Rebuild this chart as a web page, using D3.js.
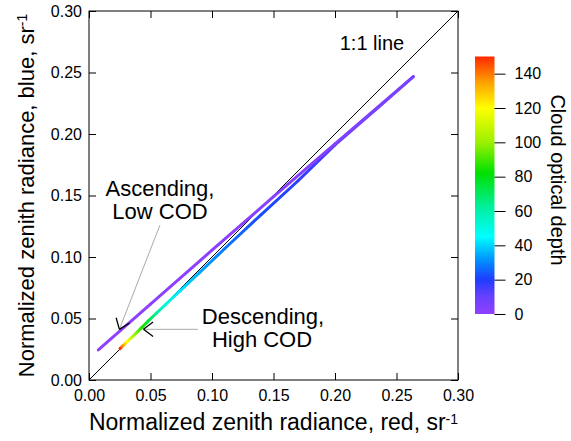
<!DOCTYPE html>
<html>
<head>
<meta charset="utf-8">
<script src="https://cdn.jsdelivr.net/npm/d3@7.8.5/dist/d3.min.js"></script>
<style>
  body { margin: 0; background: #fff; }
  svg text { font-family: "Liberation Sans", Arial, Helvetica, sans-serif; fill: #000; }
</style>
</head>
<body>
<div id="chart"></div>
<script>
// Ascending branch (low COD): red radiance, blue radiance, cloud optical depth
const ascRed  = [0.0076, 0.05, 0.10, 0.15, 0.20, 0.2637];
const ascBlue = [0.0244, 0.0617, 0.1055, 0.149, 0.192, 0.2466];
const ascCod  = [0, 0.5, 1, 2, 3.5, 6];

// Descending branch (high COD)
const descRed  = [0.2637, 0.235, 0.20, 0.17, 0.14, 0.11, 0.09, 0.074, 0.062, 0.055, 0.048, 0.043, 0.037, 0.0306, 0.0275, 0.0252];
const descBlue = [0.2466, 0.2215, 0.1912, 0.162, 0.1345, 0.1065, 0.0875, 0.0725, 0.0612, 0.0545, 0.0478, 0.0428, 0.0368, 0.0308, 0.0278, 0.0255];
const descCod  = [6, 10, 14, 18, 22, 28, 34, 42, 52, 62, 75, 85, 100, 120, 135, 150];

// axis ticks
const axisTicks = [0, 0.05, 0.10, 0.15, 0.20, 0.25, 0.30];
const cbTicks = [0, 20, 40, 60, 80, 100, 120, 140];

// colour map for cloud optical depth
const codStops  = [0, 10, 20, 32, 45, 62, 82, 100, 120, 135, 150];
const codColors = ['#9040ff', '#6a40ff', '#1e3cff', '#0096ff', '#00ffff', '#00f0a0', '#00e000', '#9bf000', '#ffff00', '#ffa000', '#ff2800'];

const width = 571, height = 441;
const svg = d3.select('#chart').append('svg')
  .attr('width', width)
  .attr('height', height);

const x = d3.scaleLinear().domain([0, 0.3]).range([89, 458]);
const y = d3.scaleLinear().domain([0, 0.3]).range([380, 11]);
const codColor = d3.scaleLinear().domain(codStops).range(codColors).clamp(true);

const fmt = d3.format('.2f');

// axes with inward ticks
const gx = svg.append('g').attr('transform', `translate(0,${y(0)})`)
  .call(d3.axisBottom(x).tickValues(axisTicks).tickFormat(fmt).tickSizeInner(-7).tickSizeOuter(0).tickPadding(10));
const gy = svg.append('g').attr('transform', `translate(${x(0)},0)`)
  .call(d3.axisLeft(y).tickValues(axisTicks).tickFormat(fmt).tickSizeInner(-7).tickSizeOuter(0).tickPadding(7));
const gt = svg.append('g').attr('transform', `translate(0,${y(0.3)})`)
  .call(d3.axisTop(x).tickValues(axisTicks).tickFormat('').tickSizeInner(-7).tickSizeOuter(0));
const gr = svg.append('g').attr('transform', `translate(${x(0.3)},0)`)
  .call(d3.axisRight(y).tickValues(axisTicks).tickFormat('').tickSizeInner(-7).tickSizeOuter(0));

[gx, gy, gt, gr].forEach(g => {
  g.select('.domain').remove();
  g.selectAll('.tick line').attr('stroke', '#000');
  g.selectAll('text').style('font-size', '16px').attr('fill', '#000');
});

// frame
svg.append('rect')
  .attr('x', x(0)).attr('y', y(0.3))
  .attr('width', x(0.3) - x(0)).attr('height', y(0) - y(0.3))
  .attr('fill', 'none').attr('stroke', '#000').attr('stroke-width', 1);

// 1:1 line
svg.append('line')
  .attr('x1', x(0)).attr('y1', y(0))
  .attr('x2', x(0.3)).attr('y2', y(0.3))
  .attr('stroke', '#000').attr('stroke-width', 1);

svg.append('text')
  .attr('x', 372).attr('y', 50)
  .attr('text-anchor', 'middle')
  .style('font-size', '20px')
  .text('1:1 line');

// colour-coded curves: each segment gets a gradient between its end colours
const defs = svg.append('defs');
let gradId = 0;
function drawBranch(reds, blues, cods) {
  const g = svg.append('g');
  for (let i = 0; i < reds.length - 1; i++) {
    const id = 'seg' + (gradId++);
    const x1 = x(reds[i]), y1 = y(blues[i]), x2 = x(reds[i + 1]), y2 = y(blues[i + 1]);
    const grad = defs.append('linearGradient')
      .attr('id', id)
      .attr('gradientUnits', 'userSpaceOnUse')
      .attr('x1', x1).attr('y1', y1).attr('x2', x2).attr('y2', y2);
    grad.append('stop').attr('offset', '0%').attr('stop-color', codColor(cods[i]));
    grad.append('stop').attr('offset', '100%').attr('stop-color', codColor(cods[i + 1]));
    g.append('line')
      .attr('x1', x1).attr('y1', y1).attr('x2', x2).attr('y2', y2)
      .attr('stroke', `url(#${id})`)
      .attr('stroke-width', 3)
      .attr('stroke-linecap', 'round');
  }
}
drawBranch(descRed, descBlue, descCod);
drawBranch(ascRed, ascBlue, ascCod);

// annotations
function arrow(fromX, fromY, tipX, tipY) {
  const x0 = x(fromX), y0 = y(fromY), x1 = x(tipX), y1 = y(tipY);
  svg.append('line')
    .attr('x1', x0).attr('y1', y0).attr('x2', x1).attr('y2', y1)
    .attr('stroke', '#aaa').attr('stroke-width', 1);
  const ang = Math.atan2(y0 - y1, x0 - x1);
  const len = 12, spread = 37 * Math.PI / 180;
  [-spread, spread].forEach(s => {
    svg.append('line')
      .attr('x1', x1).attr('y1', y1)
      .attr('x2', x1 + len * Math.cos(ang + s))
      .attr('y2', y1 + len * Math.sin(ang + s))
      .attr('stroke', '#000').attr('stroke-width', 1.3);
  });
}
arrow(0.0577, 0.126, 0.0247, 0.0412);
arrow(0.0886, 0.0412, 0.0443, 0.0412);

const notes = svg.append('g').style('font-size', '22px').attr('text-anchor', 'middle');
notes.append('text').attr('x', 160).attr('y', 196).text('Ascending,');
notes.append('text').attr('x', 160).attr('y', 219).text('Low COD');
notes.append('text').attr('x', 263).attr('y', 324).text('Descending,');
notes.append('text').attr('x', 262).attr('y', 347).text('High COD');

// axis titles
const xt = svg.append('text')
  .attr('x', (x(0) + x(0.3)) / 2).attr('y', 430)
  .attr('text-anchor', 'middle')
  .style('font-size', '23px');
xt.append('tspan').text('Normalized zenith radiance, red, sr');
xt.append('tspan').attr('dy', '-0.45em').style('font-size', '14px').text('-1');

const yt = svg.append('text')
  .attr('transform', `translate(33.5,${(y(0) + y(0.3)) / 2}) rotate(-90)`)
  .attr('text-anchor', 'middle')
  .style('font-size', '22px');
yt.append('tspan').text('Normalized zenith radiance, blue, sr');
yt.append('tspan').attr('dy', '-0.45em').style('font-size', '14px').text('-1');

// colour bar
const cb = d3.scaleLinear().domain([0, 150]).range([314, 56.5]);
const cbGrad = defs.append('linearGradient')
  .attr('id', 'cbgrad')
  .attr('x1', 0).attr('y1', 1).attr('x2', 0).attr('y2', 0);
codStops.forEach((v, i) => {
  cbGrad.append('stop').attr('offset', v / 150).attr('stop-color', codColors[i]);
});
svg.append('rect')
  .attr('x', 475).attr('y', cb(150))
  .attr('width', 19.5).attr('height', cb(0) - cb(150))
  .attr('fill', 'url(#cbgrad)');

const gc = svg.append('g').attr('transform', 'translate(494.5,0)')
  .call(d3.axisRight(cb).tickValues(cbTicks).tickSizeInner(11).tickSizeOuter(0).tickPadding(9));
gc.select('.domain').remove();
gc.selectAll('.tick line').attr('stroke', '#000');
gc.selectAll('text').style('font-size', '16px').attr('fill', '#000');

svg.append('text')
  .attr('transform', 'translate(551,180) rotate(90)')
  .attr('text-anchor', 'middle')
  .style('font-size', '20px')
  .text('Cloud optical depth');
</script>
</body>
</html>
